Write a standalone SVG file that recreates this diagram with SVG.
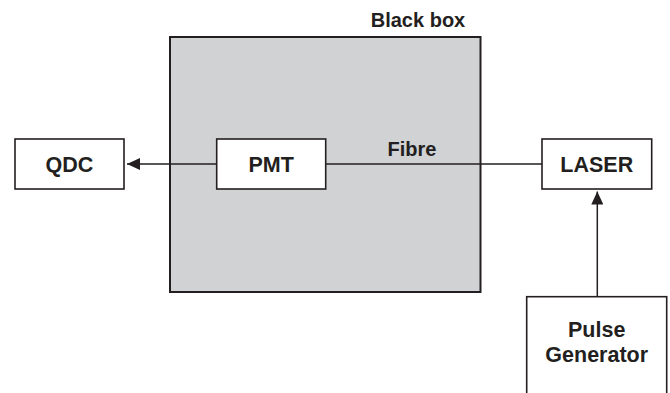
<svg xmlns="http://www.w3.org/2000/svg" width="670" height="393" viewBox="0 0 670 393">
  <style>
    .box { fill: #ffffff; stroke: #231f20; stroke-width: 1.6; }
    .enclosure { fill: #d1d2d4; stroke: #231f20; stroke-width: 2; }
    .lbl { font-family: "Liberation Sans", Arial, sans-serif; font-weight: bold; font-size: 21.5px; fill: #231f20; text-anchor: middle; }
    .small { font-size: 20px; }
    .wire { stroke: #231f20; stroke-width: 1.5; fill: none; }
  </style>
  <defs>
    <marker id="arrow" viewBox="0 0 13 12" refX="13" refY="6" markerWidth="13" markerHeight="12" markerUnits="userSpaceOnUse" orient="auto">
      <path d="M0,0 L13,6 L0,12 Z" fill="#231f20"/>
    </marker>
  </defs>

  <g id="black-box">
    <rect class="enclosure" x="170" y="37" width="310.5" height="255"/>
    <text class="lbl small" x="418" y="27">Black box</text>
  </g>

  <g id="connectors">
    <line class="wire" x1="216.7" y1="164" x2="127" y2="164" marker-end="url(#arrow)"/>
    <line class="wire" x1="325.7" y1="164" x2="542" y2="164"/>
    <line class="wire" x1="597.3" y1="296.7" x2="597.3" y2="191.5" marker-end="url(#arrow)"/>
    <text class="lbl small" x="412" y="156">Fibre</text>
  </g>

  <g id="qdc">
    <rect class="box" x="15" y="139" width="109" height="50"/>
    <text class="lbl" x="69.5" y="171.5">QDC</text>
  </g>

  <g id="pmt">
    <rect class="box" x="216.7" y="139" width="109" height="50"/>
    <text class="lbl" x="271.2" y="171.5">PMT</text>
  </g>

  <g id="laser">
    <rect class="box" x="542" y="139" width="109.7" height="50"/>
    <text class="lbl" x="596.8" y="171.5">LASER</text>
  </g>

  <g id="pulse-generator">
    <rect class="box" x="526.7" y="296.7" width="140" height="110"/>
    <text class="lbl" x="596.7" y="337">Pulse</text>
    <text class="lbl" x="596.7" y="362">Generator</text>
  </g>
</svg>
